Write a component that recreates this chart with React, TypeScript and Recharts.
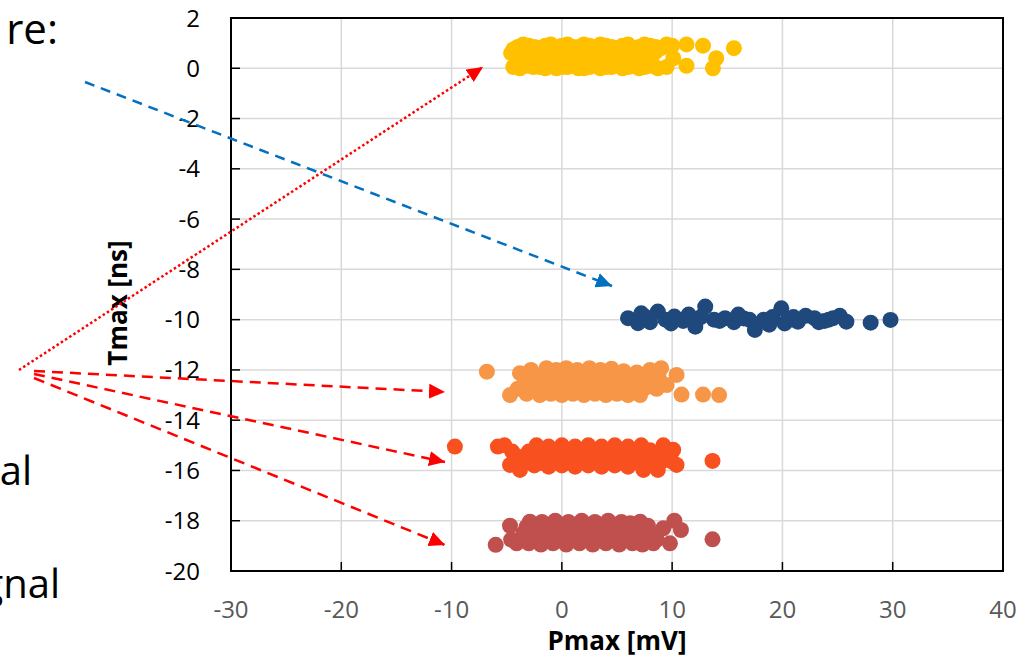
import React from 'react';
import { ScatterChart, Scatter, XAxis, YAxis, CartesianGrid, ReferenceArea } from 'recharts';

const xTicks = [-30, -20, -10, 0, 10, 20, 30, 40];
const yTicks = [-20, -18, -16, -14, -12, -10, -8, -6, -4, -2, 0, 2];
const xTitle = 'Pmax [mV]';
const yTitle = 'Tmax [ns]';
const slideTexts = ['re:', 'al', 'gnal'];

const yellowPts = [
  { x: -4.0, y: 0.85 }, { x: -3.0, y: 0.9 }, { x: -2.0, y: 0.8 }, { x: -1.0, y: 0.95 }, { x: 0.0, y: 0.9 },
  { x: 1.0, y: 0.85 }, { x: 2.0, y: 0.95 }, { x: 3.0, y: 0.85 }, { x: 4.0, y: 0.9 }, { x: 5.0, y: 0.8 },
  { x: 6.0, y: 0.95 }, { x: 7.0, y: 0.85 }, { x: 8.0, y: 0.9 }, { x: 9.0, y: 0.8 }, { x: 10.0, y: 0.9 },
  { x: 11.3, y: 0.95 }, { x: 12.8, y: 0.9 }, { x: 15.6, y: 0.8 },
  { x: -4.4, y: 0.75 }, { x: -3.5, y: 0.95 }, { x: -2.5, y: 0.85 }, { x: -1.5, y: 0.9 }, { x: -0.5, y: 0.8 },
  { x: 0.5, y: 0.95 }, { x: 1.5, y: 0.85 }, { x: 2.5, y: 0.9 }, { x: 3.5, y: 0.95 }, { x: 4.5, y: 0.85 },
  { x: 5.5, y: 0.9 }, { x: 6.5, y: 0.8 }, { x: 7.5, y: 0.95 }, { x: 8.5, y: 0.85 }, { x: 9.5, y: 0.95 },
  { x: -4.6, y: 0.6 }, { x: -3.6, y: 0.65 }, { x: -2.7, y: 0.6 }, { x: -1.9, y: 0.65 }, { x: -1.1, y: 0.7 },
  { x: -0.3, y: 0.6 }, { x: 0.5, y: 0.65 }, { x: 1.3, y: 0.6 }, { x: 2.1, y: 0.7 }, { x: 2.9, y: 0.65 },
  { x: 3.7, y: 0.6 }, { x: 4.5, y: 0.65 }, { x: 5.3, y: 0.7 }, { x: 6.1, y: 0.6 }, { x: 6.9, y: 0.65 },
  { x: 7.7, y: 0.6 }, { x: 8.5, y: 0.65 },
  { x: -3.9, y: 0.3 }, { x: -3.1, y: 0.35 }, { x: -2.3, y: 0.3 }, { x: -1.5, y: 0.35 }, { x: -0.7, y: 0.3 },
  { x: 0.1, y: 0.35 }, { x: 0.9, y: 0.3 }, { x: 1.7, y: 0.25 }, { x: 2.5, y: 0.35 }, { x: 3.3, y: 0.3 },
  { x: 4.1, y: 0.35 }, { x: 4.9, y: 0.3 }, { x: 5.7, y: 0.25 }, { x: 6.5, y: 0.35 }, { x: 7.3, y: 0.3 },
  { x: 8.1, y: 0.3 }, { x: 10.1, y: 0.4 }, { x: 14.0, y: 0.4 },
  { x: -4.4, y: 0.05 }, { x: -3.8, y: 0.0 }, { x: -3.2, y: 0.1 }, { x: -2.6, y: 0.05 }, { x: -2.0, y: 0.05 },
  { x: -1.5, y: 0.0 }, { x: -1.0, y: 0.1 }, { x: -0.5, y: 0.0 }, { x: 0.0, y: 0.05 }, { x: 0.5, y: 0.05 },
  { x: 1.0, y: 0.1 }, { x: 1.5, y: 0.0 }, { x: 2.0, y: 0.0 }, { x: 2.5, y: 0.05 }, { x: 3.0, y: 0.1 },
  { x: 3.5, y: 0.0 }, { x: 4.0, y: 0.05 }, { x: 4.5, y: 0.05 }, { x: 5.0, y: 0.1 }, { x: 5.5, y: 0.0 },
  { x: 6.0, y: 0.05 }, { x: 6.5, y: 0.1 }, { x: 7.0, y: 0.0 }, { x: 7.5, y: 0.05 }, { x: 8.0, y: 0.1 },
  { x: 8.7, y: 0.0 }, { x: 9.5, y: 0.05 }, { x: 11.3, y: 0.1 }, { x: 13.7, y: 0.0 },
];

const bluePts = [
  { x: 6.0, y: -9.94 }, { x: 6.9, y: -10.14 }, { x: 7.2, y: -9.75 }, { x: 7.6, y: -9.9 }, { x: 8.0, y: -10.1 },
  { x: 8.7, y: -9.68 }, { x: 9.4, y: -10.0 }, { x: 9.9, y: -10.15 }, { x: 10.2, y: -9.88 }, { x: 11.0, y: -10.05 },
  { x: 11.5, y: -9.8 }, { x: 12.1, y: -10.28 }, { x: 12.6, y: -9.9 }, { x: 13.0, y: -9.48 }, { x: 13.8, y: -10.0 },
  { x: 14.3, y: -10.05 }, { x: 14.8, y: -9.94 }, { x: 15.6, y: -10.1 }, { x: 16.0, y: -9.8 }, { x: 16.5, y: -9.95 },
  { x: 17.0, y: -10.0 }, { x: 17.5, y: -10.41 }, { x: 18.3, y: -10.0 }, { x: 18.8, y: -10.2 }, { x: 19.1, y: -9.9 },
  { x: 19.9, y: -9.55 }, { x: 20.2, y: -10.15 }, { x: 20.6, y: -10.0 }, { x: 21.0, y: -9.9 }, { x: 21.4, y: -10.08 },
  { x: 22.1, y: -9.85 }, { x: 22.9, y: -9.94 }, { x: 23.3, y: -10.1 }, { x: 23.8, y: -10.05 }, { x: 24.2, y: -10.0 },
  { x: 24.6, y: -9.94 }, { x: 25.2, y: -9.85 }, { x: 25.8, y: -10.08 }, { x: 28.0, y: -10.12 }, { x: 29.8, y: -10.01 },
];

const lightOrangePts = [
  { x: -6.8, y: -12.07 }, { x: -3.8, y: -12.13 }, { x: -2.8, y: -12.0 }, { x: -1.4, y: -11.93 }, { x: -0.5, y: -12.0 },
  { x: 0.4, y: -11.93 }, { x: 1.4, y: -12.0 }, { x: 2.5, y: -11.93 }, { x: 3.5, y: -12.0 }, { x: 4.5, y: -11.95 },
  { x: 5.6, y: -12.05 }, { x: 6.8, y: -12.1 }, { x: 8.0, y: -12.0 }, { x: 9.0, y: -11.93 }, { x: 10.4, y: -12.2 },
  { x: -3.4, y: -12.3 }, { x: -2.4, y: -12.3 }, { x: -1.2, y: -12.35 }, { x: -0.2, y: -12.3 }, { x: 0.8, y: -12.3 },
  { x: 1.8, y: -12.35 }, { x: 2.8, y: -12.3 }, { x: 3.8, y: -12.3 }, { x: 4.8, y: -12.35 }, { x: 5.8, y: -12.3 },
  { x: 6.8, y: -12.35 }, { x: 7.8, y: -12.3 }, { x: 8.8, y: -12.3 },
  { x: -3.0, y: -12.55 }, { x: -1.5, y: -12.5 }, { x: 0.0, y: -12.55 }, { x: 1.5, y: -12.45 }, { x: 3.0, y: -12.5 },
  { x: 4.5, y: -12.5 }, { x: 6.0, y: -12.55 }, { x: 7.5, y: -12.5 }, { x: 9.5, y: -12.6 },
  { x: -4.0, y: -12.75 }, { x: -2.6, y: -12.75 }, { x: -1.6, y: -12.7 }, { x: -0.6, y: -12.75 }, { x: 0.4, y: -12.75 },
  { x: 1.4, y: -12.7 }, { x: 2.4, y: -12.75 }, { x: 3.4, y: -12.75 }, { x: 4.4, y: -12.7 }, { x: 5.4, y: -12.75 },
  { x: 6.4, y: -12.75 }, { x: 7.6, y: -12.7 }, { x: 8.6, y: -12.75 },
  { x: -4.7, y: -13.0 }, { x: -3.2, y: -12.95 }, { x: -2.0, y: -13.0 }, { x: -1.0, y: -12.95 }, { x: 0.0, y: -13.0 },
  { x: 1.0, y: -12.95 }, { x: 2.0, y: -13.0 }, { x: 3.0, y: -12.95 }, { x: 4.0, y: -13.0 }, { x: 5.0, y: -12.95 },
  { x: 6.0, y: -13.0 }, { x: 7.1, y: -13.0 }, { x: 10.85, y: -12.98 }, { x: 12.8, y: -12.98 }, { x: 14.26, y: -13.0 },
];

const redOrangePts = [
  { x: -9.7, y: -15.05 }, { x: -5.8, y: -15.05 }, { x: -5.2, y: -15.0 }, { x: -2.3, y: -15.0 }, { x: -1.2, y: -15.05 },
  { x: 0.0, y: -15.0 }, { x: 1.2, y: -15.05 }, { x: 2.4, y: -15.0 }, { x: 3.6, y: -15.05 }, { x: 4.8, y: -15.0 },
  { x: 6.0, y: -15.05 }, { x: 7.2, y: -15.0 }, { x: 9.2, y: -15.0 }, { x: 10.1, y: -15.18 },
  { x: -4.5, y: -15.25 }, { x: -3.0, y: -15.25 }, { x: -1.8, y: -15.2 }, { x: -0.8, y: -15.25 }, { x: 0.3, y: -15.25 },
  { x: 1.4, y: -15.2 }, { x: 2.5, y: -15.25 }, { x: 3.6, y: -15.25 }, { x: 4.7, y: -15.2 }, { x: 5.8, y: -15.25 },
  { x: 6.8, y: -15.25 }, { x: 8.0, y: -15.2 }, { x: 9.4, y: -15.3 },
  { x: -3.5, y: -15.45 }, { x: -2.0, y: -15.45 }, { x: -0.5, y: -15.4 }, { x: 1.0, y: -15.45 }, { x: 2.5, y: -15.4 },
  { x: 4.0, y: -15.45 }, { x: 5.5, y: -15.4 }, { x: 7.0, y: -15.45 }, { x: 8.2, y: -15.4 },
  { x: -4.2, y: -15.65 }, { x: -3.1, y: -15.65 }, { x: -2.0, y: -15.7 }, { x: -0.9, y: -15.65 }, { x: 0.2, y: -15.65 },
  { x: 1.3, y: -15.7 }, { x: 2.4, y: -15.65 }, { x: 3.5, y: -15.65 }, { x: 4.6, y: -15.7 }, { x: 5.6, y: -15.65 },
  { x: 6.6, y: -15.65 }, { x: 7.8, y: -15.7 }, { x: 9.0, y: -15.65 }, { x: 10.0, y: -15.65 },
  { x: -4.7, y: -15.78 }, { x: -3.8, y: -15.98 }, { x: -2.5, y: -15.8 }, { x: -1.2, y: -15.85 }, { x: 0.0, y: -15.8 },
  { x: 1.2, y: -15.85 }, { x: 2.4, y: -15.8 }, { x: 3.6, y: -15.85 }, { x: 4.8, y: -15.8 }, { x: 6.0, y: -15.85 },
  { x: 7.4, y: -15.98 }, { x: 8.7, y: -15.98 }, { x: 10.4, y: -15.78 }, { x: 13.66, y: -15.62 },
];

const brickPts = [
  { x: -4.7, y: -18.2 }, { x: -2.9, y: -18.04 }, { x: -1.8, y: -18.05 }, { x: -0.6, y: -18.0 }, { x: 0.6, y: -18.05 },
  { x: 1.8, y: -18.0 }, { x: 3.0, y: -18.05 }, { x: 4.2, y: -18.0 }, { x: 5.4, y: -18.05 }, { x: 6.2, y: -18.1 },
  { x: 7.1, y: -18.04 }, { x: 10.2, y: -18.0 }, { x: 10.8, y: -18.37 },
  { x: -3.2, y: -18.25 }, { x: -2.2, y: -18.25 }, { x: -1.2, y: -18.2 }, { x: -0.2, y: -18.25 }, { x: 0.8, y: -18.25 },
  { x: 1.8, y: -18.2 }, { x: 2.8, y: -18.25 }, { x: 3.8, y: -18.25 }, { x: 4.8, y: -18.2 }, { x: 5.8, y: -18.25 },
  { x: 6.8, y: -18.25 }, { x: 7.8, y: -18.2 }, { x: 9.2, y: -18.3 },
  { x: -3.5, y: -18.5 }, { x: -2.0, y: -18.45 }, { x: -0.5, y: -18.5 }, { x: 1.0, y: -18.45 }, { x: 2.5, y: -18.5 },
  { x: 4.0, y: -18.45 }, { x: 5.5, y: -18.5 }, { x: 7.0, y: -18.45 }, { x: 8.5, y: -18.55 },
  { x: -4.6, y: -18.75 }, { x: -3.4, y: -18.75 }, { x: -2.4, y: -18.7 }, { x: -1.4, y: -18.75 }, { x: -0.4, y: -18.75 },
  { x: 0.6, y: -18.7 }, { x: 1.6, y: -18.75 }, { x: 2.6, y: -18.75 }, { x: 3.6, y: -18.7 }, { x: 4.6, y: -18.75 },
  { x: 5.6, y: -18.75 }, { x: 6.6, y: -18.7 }, { x: 7.6, y: -18.75 }, { x: 8.6, y: -18.75 },
  { x: -6.0, y: -18.96 }, { x: -4.1, y: -18.9 }, { x: -3.0, y: -18.9 }, { x: -1.9, y: -18.95 }, { x: -0.8, y: -18.9 },
  { x: 0.4, y: -18.95 }, { x: 1.6, y: -18.9 }, { x: 2.8, y: -18.95 }, { x: 4.0, y: -18.9 }, { x: 5.2, y: -18.95 },
  { x: 6.4, y: -18.9 }, { x: 7.3, y: -18.95 }, { x: 8.3, y: -18.9 }, { x: 9.8, y: -18.9 }, { x: 13.66, y: -18.74 },
];

const series = [
  { name: 'yellow', data: yellowPts, color: '#FFC000' },
  { name: 'blue', data: bluePts, color: '#1F497D' },
  { name: 'lightOrange', data: lightOrangePts, color: '#F79646' },
  { name: 'redOrange', data: redOrangePts, color: '#F8511F' },
  { name: 'brick', data: brickPts, color: '#C0504D' },
];

const FONT = '"Open Sans", "DejaVu Sans", sans-serif';

const YTick = (props: any) => {
  const { x, y, payload } = props;
  return (
    <g>
      <line x1={x} x2={x + 9} y1={y} y2={y} stroke="#000" strokeWidth={1.5} />
      <text x={x - 31} y={y} dy={8.5} textAnchor="end" fill="#000" fontSize={24} fontFamily={FONT}>
        {payload.value}
      </text>
    </g>
  );
};

const XTick = (props: any) => {
  const { x, y, payload } = props;
  return (
    <g>
      <line x1={x} x2={x} y1={y} y2={y - 9} stroke="#000" strokeWidth={1.5} />
      <text x={x} y={y} dy={47} textAnchor="middle" fill="#595959" fontSize={24} fontFamily={FONT}>
        {payload.value}
      </text>
    </g>
  );
};

const makeDot = (color: string) => (props: any) => (
  <circle cx={props.cx} cy={props.cy} r={8} fill={color} />
);

export default function App() {
  return (
    <div style={{ position: 'absolute', left: 0, top: 0, width: 1032, height: 659, background: '#fff', fontFamily: FONT }}>
      <ScatterChart width={1032} height={659} margin={{ top: 18, right: 29, bottom: 0, left: 0 }}>
        <CartesianGrid stroke="#D9D9D9" strokeWidth={1.5} />
        <XAxis
          type="number"
          dataKey="x"
          domain={[-30, 40]}
          ticks={xTicks}
          allowDataOverflow
          height={88}
          axisLine={false}
          tickLine={false}
          tickSize={0}
          tickMargin={0}
          tick={<XTick />}
          interval={0}
        />
        <YAxis
          type="number"
          dataKey="y"
          domain={[-20, 2]}
          ticks={yTicks}
          allowDataOverflow
          width={231}
          axisLine={false}
          tickLine={false}
          tickSize={0}
          tickMargin={0}
          tick={<YTick />}
          interval={0}
        />
        {series.map((s) => (
          <Scatter key={s.name} name={s.name} data={s.data} fill={s.color} shape={makeDot(s.color)} isAnimationActive={false} />
        ))}
        <ReferenceArea x1={-30} x2={40} y1={-20} y2={2} fill="none" fillOpacity={0} stroke="#000" strokeWidth={2} ifOverflow="visible" />
      </ScatterChart>
      <svg width={1032} height={659} style={{ position: 'absolute', left: 0, top: 0, pointerEvents: 'none' }}>
        <defs>
          <marker id="arrRed" markerUnits="userSpaceOnUse" markerWidth={17} markerHeight={15} refX={16} refY={7.5} orient="auto">
            <path d="M0,0 L16,7.5 L0,15 z" fill="#FF0000" />
          </marker>
          <marker id="arrBlue" markerUnits="userSpaceOnUse" markerWidth={17} markerHeight={15} refX={16} refY={7.5} orient="auto">
            <path d="M0,0 L16,7.5 L0,15 z" fill="#0070C0" />
          </marker>
        </defs>
        <text x={58} y={44} textAnchor="end" fontSize={42} fontFamily={FONT} fill="#000">{slideTexts[0]}</text>
        <text x={32} y={485} textAnchor="end" fontSize={40} fontFamily={FONT} fill="#000">{slideTexts[1]}</text>
        <text x={60} y={598} textAnchor="end" fontSize={40} fontFamily={FONT} fill="#000">{slideTexts[2]}</text>
        <text x={617} y={650} textAnchor="middle" fontSize={26} fontWeight="bold" fontFamily={FONT} fill="#000">{xTitle}</text>
        <text x={127} y={303} transform="rotate(-90 127 303)" textAnchor="middle" fontSize={26} fontWeight="bold" fontFamily={FONT} fill="#000">{yTitle}</text>
        <line x1={85} y1={82} x2={612} y2={286} stroke="#0070C0" strokeWidth={2.5} strokeDasharray="10 7" markerEnd="url(#arrBlue)" />
        <line x1={19} y1={370} x2={483} y2={67} stroke="#FF0000" strokeWidth={2.5} strokeDasharray="2.5 2.5" markerEnd="url(#arrRed)" />
        <line x1={34} y1={371} x2={445} y2={392} stroke="#FF0000" strokeWidth={2.5} strokeDasharray="11 7" markerEnd="url(#arrRed)" />
        <line x1={34} y1={374} x2={445} y2={462} stroke="#FF0000" strokeWidth={2.5} strokeDasharray="11 7" markerEnd="url(#arrRed)" />
        <line x1={34} y1={378} x2={445} y2={545} stroke="#FF0000" strokeWidth={2.5} strokeDasharray="11 7" markerEnd="url(#arrRed)" />
      </svg>
    </div>
  );
}
